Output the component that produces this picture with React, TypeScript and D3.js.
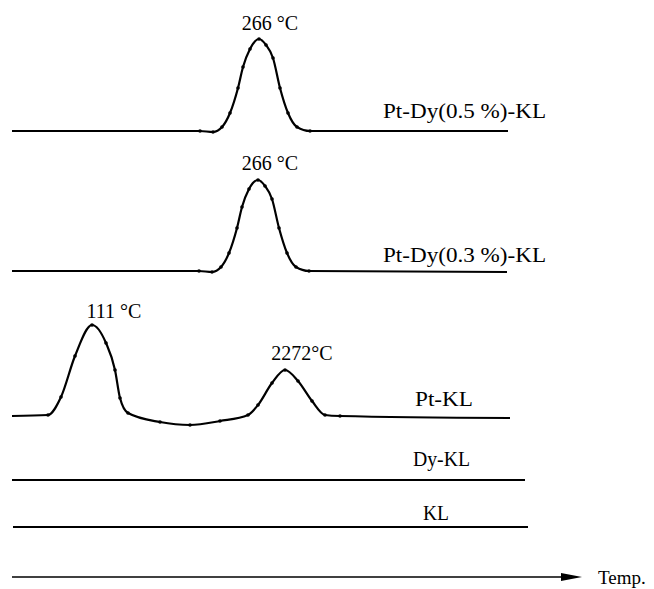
import React, { useEffect, useRef } from "react";
import * as d3 from "d3";

// Temperature axis (arbitrary units, left → right) and signal heights (arbitrary units)
const dy05X = [0, 188, 201, 210, 218, 226, 231, 238, 247, 254, 261, 268, 276, 285, 298, 496];
const dy05Y = [0, 0, -1, 4, 18, 43, 64, 82, 92, 86, 73, 43, 18, 4, 0, 0];

const dy03X = [0, 187, 200, 209, 217, 225, 230, 237, 246, 253, 260, 267, 275, 284, 297, 495];
const dy03Y = [0, 0, -1, 4, 18, 43, 64, 82, 91, 85, 72, 43, 18, 4, 0, -1];

const ptX = [0, 36, 49, 63, 80, 94, 103, 108, 116, 148, 178, 208, 236, 246, 260, 273, 286, 300, 313, 328, 498];
const ptY = [0, 1, 19, 60, 91, 73, 46, 18, 3, -6, -9, -5, 1, 11, 33, 46, 35, 15, 1, 0, -2];

const dyX = [0, 513];
const dyY = [0, 0];
const klX = [1, 516];
const klY = [0, 0];

const seriesNames = ["Pt-Dy(0.5 %)-KL", "Pt-Dy(0.3 %)-KL", "Pt-KL", "Dy-KL", "KL"];
const peakLabels = ["266 °C", "266 °C", "111 °C", "2272°C"];
const axisLabel = "Temp.";

export default function App() {
  const ref = useRef<SVGSVGElement>(null);
  useEffect(() => {
    const svg = d3.select(ref.current);
    svg.selectAll("*").remove();
    const x = d3.scaleLinear().domain([0, 500]).range([12, 512]);
    const h = d3.scaleLinear().domain([0, 100]).range([0, 100]);
    const font = "'Liberation Serif', 'Times New Roman', serif";

    const series = [
      { xs: dy05X, ys: dy05Y, base: 131, name: seriesNames[0], lx: 383, ly: 118, w: 163, dots: true },
      { xs: dy03X, ys: dy03Y, base: 271, name: seriesNames[1], lx: 383, ly: 262, w: 163, dots: true },
      { xs: ptX, ys: ptY, base: 416, name: seriesNames[2], lx: 415, ly: 406, w: 58, dots: true },
      { xs: dyX, ys: dyY, base: 480, name: seriesNames[3], lx: 413, ly: 466, w: 57, dots: false },
      { xs: klX, ys: klY, base: 527, name: seriesNames[4], lx: 423, ly: 520, w: 26, dots: false },
    ];

    series.forEach((s) => {
      const pts = s.xs.map((v, i) => [x(v), s.base - h(s.ys[i])] as [number, number]);
      const line = d3.line().curve(d3.curveMonotoneX);
      svg
        .append("path")
        .attr("d", line(pts))
        .attr("fill", "none")
        .attr("stroke", "#000")
        .attr("stroke-width", 2.2);
      if (s.dots) {
        svg
          .selectAll(null)
          .data(pts.slice(1, -1))
          .enter()
          .append("circle")
          .attr("cx", (d) => d[0])
          .attr("cy", (d) => d[1])
          .attr("r", 1.8)
          .attr("fill", "#000");
      }
      svg
        .append("text")
        .attr("x", s.lx)
        .attr("y", s.ly)
        .attr("font-family", font)
        .attr("font-size", 21)
        .attr("textLength", s.w)
        .attr("lengthAdjust", "spacingAndGlyphs")
        .text(s.name);
    });

    const peaks = [
      { t: peakLabels[0], x: 270, y: 30 },
      { t: peakLabels[1], x: 270, y: 170 },
      { t: peakLabels[2], x: 114, y: 318 },
      { t: peakLabels[3], x: 302, y: 360 },
    ];
    peaks.forEach((p) => {
      svg
        .append("text")
        .attr("x", p.x)
        .attr("y", p.y)
        .attr("text-anchor", "middle")
        .attr("font-family", font)
        .attr("font-size", 20)
        .text(p.t);
    });

    // temperature axis
    svg
      .append("line")
      .attr("x1", x(0))
      .attr("x2", 570)
      .attr("y1", 577)
      .attr("y2", 577)
      .attr("stroke", "#000")
      .attr("stroke-width", 1.5);
    svg
      .append("path")
      .attr("d", "M561,573 L582,577 L561,581 Z")
      .attr("fill", "#000");
    svg
      .append("text")
      .attr("x", 598)
      .attr("y", 584)
      .attr("font-family", font)
      .attr("font-size", 19)
      .text(axisLabel);
  }, []);
  return (
    <svg
      ref={ref}
      width={654}
      height={589}
      style={{ position: "absolute", left: 0, top: 0, background: "#fff" }}
    />
  );
}
